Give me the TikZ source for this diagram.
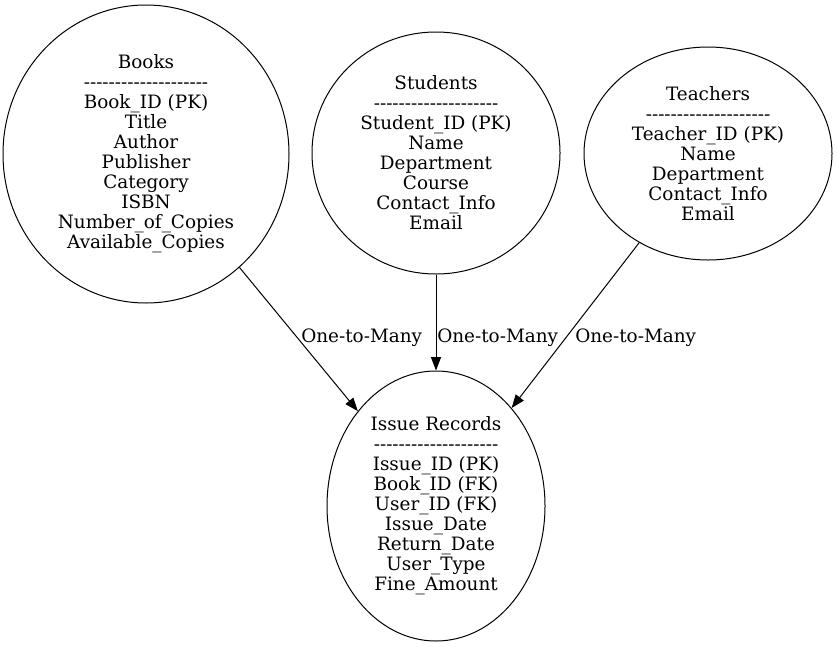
\documentclass[tikz,border=0pt]{standalone}
\usepackage{fontspec}
\setmainfont{DejaVu Serif}
\usetikzlibrary{shapes.geometric,arrows.meta}

% one pixel of the drawing grid
\newcommand{\pxu}{0.75pt}
% a row of plain hyphens that must not join into dashes
\newcommand{\sepline}{\foreach \i in {1,...,20}{-\kern0pt}}

\tikzset{
  entity/.style={draw, ellipse, line width=0.75pt, inner sep=0pt},
  fields/.style={align=center, inner sep=0pt,
    font=\fontsize{13.8}{15}\selectfont},
  lbl/.style={anchor=west, inner sep=0pt,
    font=\fontsize{13.8}{15}\selectfont},
  rel/.style={line width=0.75pt,
    -{Triangle[length=10pt,width=7.5pt]}}
}

\begin{document}
\begin{tikzpicture}[x=\pxu, y=-\pxu]
  \useasboundingbox (0,0) rectangle (837,646);

  % entity outlines
  \node (books)    [entity, minimum width=286*\pxu, minimum height=298*\pxu] at (146,154) {};
  \node (students) [entity, minimum width=248*\pxu, minimum height=242*\pxu] at (436,153) {};
  \node (teachers) [entity, minimum width=248*\pxu, minimum height=213*\pxu] at (708,153.5) {};
  \node (issue)    [entity, minimum width=218*\pxu, minimum height=270*\pxu] at (436,506) {};

  % entity attributes
  \node (booksT) [fields] at (books.center) {Books\\\sepline\\Book\_ID (PK)\\Title\\Author\\Publisher\\Category\\ISBN\\Number\_of\_Copies\\Available\_Copies};
  \node (studentsT) [fields] at (students.center) {Students\\\sepline\\Student\_ID (PK)\\Name\\Department\\Course\\Contact\_Info\\Email};
  \node (teachersT) [fields] at (teachers.center) {Teachers\\\sepline\\Teacher\_ID (PK)\\Name\\Department\\Contact\_Info\\Email};
  \node (issueT) [fields] at (issue.center) {Issue Records\\\sepline\\Issue\_ID (PK)\\Book\_ID (FK)\\User\_ID (FK)\\Issue\_Date\\Return\_Date\\User\_Type\\Fine\_Amount};

  % relationships
  \draw[rel] (books) -- (issue);
  \draw[rel] (students) -- (issue);
  \draw[rel] (teachers) -- (issue);

  \node (l1) [lbl] at (301,337.5) {One-to-Many};
  \node (l2) [lbl] at (437,337.5) {One-to-Many};
  \node (l3) [lbl] at (575,337.5) {One-to-Many};
\end{tikzpicture}
\end{document}
